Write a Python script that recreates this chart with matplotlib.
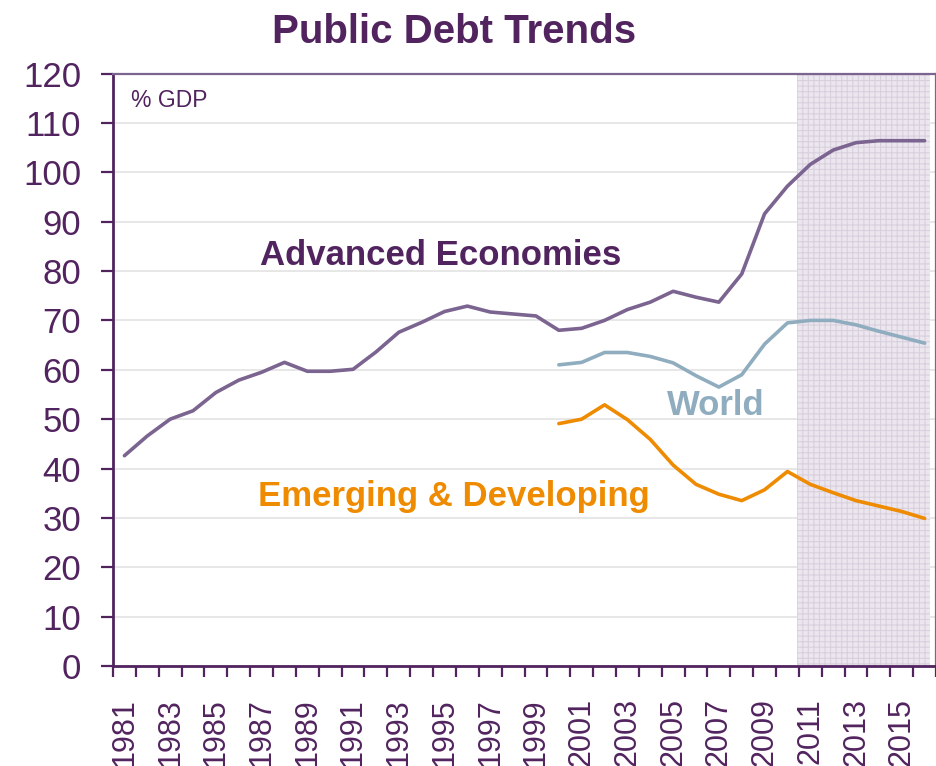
#!/usr/bin/env python3
"""
Public Debt Trends: general government debt in % of GDP for advanced
economies, emerging & developing economies and the world, 1981-2016.
The projection years are shaded.
"""

import matplotlib
matplotlib.use("Agg")
import matplotlib.pyplot as plt
from matplotlib.ticker import FixedLocator, MultipleLocator

# -------------------------------------
# Data
# -------------------------------------
years = list(range(1981, 2017))

advanced = [42.6, 46.6, 50.0, 51.7, 55.4, 57.9, 59.5, 61.5, 59.7, 59.7,
            60.1, 63.6, 67.6, 69.6, 71.8, 72.9, 71.7, 71.3, 70.9, 68.0,
            68.4, 70.0, 72.2, 73.7, 75.9, 74.7, 73.7, 79.4, 91.6, 97.2,
            101.6, 104.5, 106.0, 106.4, 106.4, 106.4]

# World and emerging series start in 2000
world_years = list(range(2000, 2017))
world = [61.0, 61.5, 63.5, 63.5, 62.7, 61.4, 58.8, 56.5, 59.0, 65.2,
         69.5, 70.0, 70.0, 69.1, 67.8, 66.6, 65.4]
emerging = [49.1, 50.0, 52.9, 49.9, 45.9, 40.7, 36.8, 34.8, 33.5, 35.7,
            39.4, 36.8, 35.1, 33.5, 32.4, 31.3, 29.9]

projection_start = 2011   # shaded from here on
tick_labels = [str(y) for y in years[::2]]

# Colours
PURPLE_DARK = "#52245f"
PURPLE_LINE = "#7b6490"
WORLD_BLUE = "#8fadbf"
ORANGE = "#ee8b00"

plt.rcParams["font.family"] = ["Liberation Sans", "DejaVu Sans"]
plt.rcParams["hatch.linewidth"] = 0.8
plt.rcParams["hatch.color"] = "#d9d0de"

fig = plt.figure(figsize=(9.37, 7.66), dpi=100)
ax = fig.add_axes([0.1206, 0.1305, 0.8784, 0.7735])

# category positions (0 .. 35)
x_adv = [years.index(y) for y in years]
x_wld = [years.index(y) for y in world_years]

# shaded projection band
p0 = years.index(projection_start) - 0.58
ax.axvspan(p0, len(years) - 0.76, facecolor="#ece7ef", edgecolor="#d9d0de",
           hatch="+++", linewidth=0, zorder=1)

# horizontal grid
ax.set_axisbelow(True)
ax.yaxis.grid(True, color="#e3e3e3", linewidth=1.2, zorder=0)

ax.plot(x_adv, advanced, color=PURPLE_LINE, linewidth=2.6,
        solid_capstyle="round", zorder=3)
ax.plot(x_wld, world, color=WORLD_BLUE, linewidth=2.6,
        solid_capstyle="round", zorder=3)
ax.plot(x_wld, emerging, color=ORANGE, linewidth=2.6,
        solid_capstyle="round", zorder=3)

# axes limits and ticks
ax.set_xlim(-0.5, len(years) - 0.5)
ax.set_ylim(0, 120)
ax.yaxis.set_major_locator(MultipleLocator(10))

ax.set_xticks(list(range(0, len(years), 2)))
ax.set_xticklabels(tick_labels, rotation=90)
ax.xaxis.set_minor_locator(FixedLocator([i - 0.5 for i in range(len(years) + 1)]))
ax.tick_params(axis="x", which="major", length=0, pad=23,
               labelsize=22, labelcolor=PURPLE_DARK)
ax.tick_params(axis="x", which="minor", length=8, width=1.6,
               color=PURPLE_DARK, direction="out")
ax.tick_params(axis="y", which="major", length=9, width=1.6,
               color=PURPLE_DARK, pad=14, labelsize=25, labelcolor=PURPLE_DARK)

for side in ["left", "bottom"]:
    ax.spines[side].set_color(PURPLE_DARK)
    ax.spines[side].set_linewidth(2.0)
for side in ["top", "right"]:
    ax.spines[side].set_color(PURPLE_LINE)
    ax.spines[side].set_linewidth(1.6)

# series labels
ax.text(5.93, 81.3, "Advanced Economies", color=PURPLE_DARK, fontsize=25,
        fontweight="bold", ha="left", va="baseline", zorder=4)
ax.text(23.73, 50.9, "World", color=WORLD_BLUE, fontsize=25,
        fontweight="bold", ha="left", va="baseline", zorder=4)
ax.text(5.84, 32.4, "Emerging & Developing", color=ORANGE, fontsize=25,
        fontweight="bold", ha="left", va="baseline", zorder=4)
ax.text(0.29, 113.3, "% GDP", color=PURPLE_DARK, fontsize=16.5,
        ha="left", va="baseline", zorder=4)

fig.text(0.4845, 0.944, "Public Debt Trends", color=PURPLE_DARK,
         fontsize=29, fontweight="bold", ha="center", va="baseline")

fig.savefig("out.png", dpi=100)
